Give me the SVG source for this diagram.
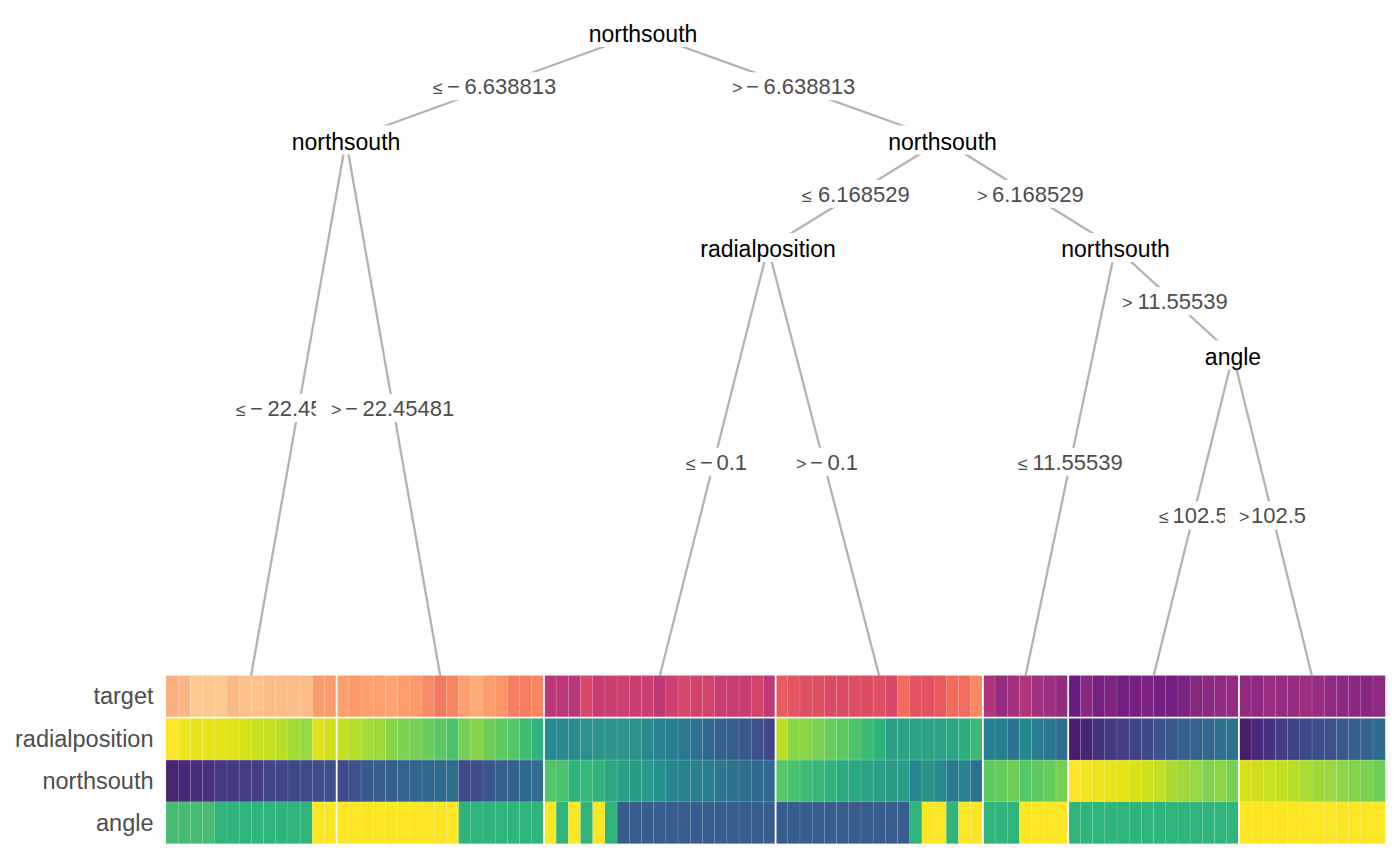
<svg xmlns="http://www.w3.org/2000/svg" width="1400" height="866" viewBox="0 0 1400 866">
<style>
.edge line{stroke:#B3B3B3;stroke-width:2.3;fill:none}
.bg{fill:#fff}
.node text{font-family:"Liberation Sans",Arial,sans-serif;font-size:23px;fill:#000;text-anchor:middle}
.elab text{font-family:"Liberation Sans",Arial,sans-serif;font-size:22px;fill:#4D4D4D}
.op{font-size:18px}
.ax{font-family:"Liberation Sans",Arial,sans-serif;font-size:23.5px;fill:#4D4D4D;text-anchor:end}
.hm rect{width:12.25px;stroke:#fff;stroke-opacity:.18;stroke-width:.6px}
.rt rect{y:675.5px;height:41.3px}
.rr rect{y:718.4px;height:41.7px}
.rn rect{y:760.1px;height:41.8px}
.ra rect{y:801.9px;height:41.8px}
.sep line{stroke:#fff;stroke-width:1.8}
</style>
<rect width="1400" height="866" fill="#fff"/>
<g id="connectors" class="edge">
<line x1="643" y1="32.5" x2="346" y2="140"/>
<line x1="643" y1="32.5" x2="942.5" y2="140"/>
<line x1="346" y1="140" x2="251" y2="676"/>
<line x1="346" y1="140" x2="440.3" y2="676"/>
<line x1="942.5" y1="140" x2="768" y2="247.5"/>
<line x1="942.5" y1="140" x2="1115.5" y2="247.5"/>
<line x1="768" y1="247.5" x2="659.8" y2="676"/>
<line x1="768" y1="247.5" x2="879.2" y2="676"/>
<line x1="1115.5" y1="247.5" x2="1025.5" y2="676"/>
<line x1="1115.5" y1="247.5" x2="1233" y2="355"/>
<line x1="1233" y1="355" x2="1153.6" y2="676"/>
<line x1="1233" y1="355" x2="1312" y2="676"/>
</g>
<g id="heatmap" class="hm">
<g class="rt">
<rect x="166.00" fill="#FDB07F"/><rect x="178.19" fill="#FDB583"/><rect x="190.38" fill="#FDCA8E"/><rect x="202.58" fill="#FDCA8E"/><rect x="214.77" fill="#FDCA8E"/><rect x="226.96" fill="#FDBA85"/><rect x="239.15" fill="#FDC28A"/><rect x="251.34" fill="#FDC38A"/><rect x="263.54" fill="#FDBD87"/><rect x="275.73" fill="#FDBD87"/><rect x="287.92" fill="#FDBD87"/><rect x="300.11" fill="#FDBD87"/><rect x="312.30" fill="#FA9C6B"/><rect x="324.50" fill="#FA9C6B"/>
<rect x="336.69" fill="#FE9F6D"/><rect x="348.88" fill="#FE9A6A"/><rect x="361.07" fill="#FEA06E"/><rect x="373.26" fill="#FEA06E"/><rect x="385.46" fill="#FEA473"/><rect x="397.65" fill="#FE9D6C"/><rect x="409.84" fill="#FE9A6A"/><rect x="422.03" fill="#F88C66"/><rect x="434.22" fill="#F47A5F"/><rect x="446.42" fill="#F8855F"/><rect x="458.61" fill="#FE9F6D"/><rect x="470.80" fill="#FEAC77"/><rect x="482.99" fill="#FE9C6B"/><rect x="495.18" fill="#FC9668"/><rect x="507.38" fill="#F67F62"/><rect x="519.57" fill="#F67D62"/><rect x="531.76" fill="#F88660"/>
<rect x="543.95" fill="#BB3679"/><rect x="556.14" fill="#BC3678"/><rect x="568.34" fill="#B8377A"/><rect x="580.53" fill="#D9486B"/><rect x="592.72" fill="#C83D71"/><rect x="604.91" fill="#CB3E70"/><rect x="617.10" fill="#CC3F71"/><rect x="629.30" fill="#C93E71"/><rect x="641.49" fill="#CB3F70"/><rect x="653.68" fill="#BE3876"/><rect x="665.87" fill="#CF4070"/><rect x="678.06" fill="#D8466B"/><rect x="690.26" fill="#D34369"/><rect x="702.45" fill="#D1436C"/><rect x="714.64" fill="#C83D72"/><rect x="726.83" fill="#C63C73"/><rect x="739.02" fill="#C93E71"/><rect x="751.22" fill="#D24369"/><rect x="763.41" fill="#BE3877"/>
<rect x="775.60" fill="#EC5A5E"/><rect x="787.79" fill="#E35461"/><rect x="799.98" fill="#DF4F63"/><rect x="812.18" fill="#DF4F63"/><rect x="824.37" fill="#DC4B65"/><rect x="836.56" fill="#DA4966"/><rect x="848.75" fill="#DF4E64"/><rect x="860.94" fill="#DC4C65"/><rect x="873.14" fill="#DF4F63"/><rect x="885.33" fill="#D84868"/><rect x="897.52" fill="#F16A5B"/><rect x="909.71" fill="#E75461"/><rect x="921.90" fill="#E1515F"/><rect x="934.10" fill="#EA5860"/><rect x="946.29" fill="#F26B5B"/><rect x="958.48" fill="#F26B5B"/><rect x="970.67" fill="#FC8962"/>
<rect x="982.86" fill="#AE347B"/><rect x="995.06" fill="#962C80"/><rect x="1007.25" fill="#A3307E"/><rect x="1019.44" fill="#B0357A"/><rect x="1031.63" fill="#A2307E"/><rect x="1043.82" fill="#9A2E80"/><rect x="1056.02" fill="#952C80"/>
<rect x="1068.21" fill="#681C81"/><rect x="1080.40" fill="#8A2881"/><rect x="1092.59" fill="#751F81"/><rect x="1104.78" fill="#7D2381"/><rect x="1116.98" fill="#721F81"/><rect x="1129.17" fill="#781F81"/><rect x="1141.36" fill="#7B2282"/><rect x="1153.55" fill="#751E81"/><rect x="1165.74" fill="#751E81"/><rect x="1177.94" fill="#7C2382"/><rect x="1190.13" fill="#87287F"/><rect x="1202.32" fill="#8C2981"/><rect x="1214.51" fill="#912B80"/><rect x="1226.70" fill="#932B80"/>
<rect x="1238.90" fill="#922B80"/><rect x="1251.09" fill="#8E2A81"/><rect x="1263.28" fill="#9C2E7F"/><rect x="1275.47" fill="#952C80"/><rect x="1287.66" fill="#962C80"/><rect x="1299.86" fill="#9C2E7F"/><rect x="1312.05" fill="#982D80"/><rect x="1324.24" fill="#912B81"/><rect x="1336.43" fill="#8C2981"/><rect x="1348.62" fill="#8A2881"/><rect x="1360.82" fill="#882781"/><rect x="1373.01" fill="#8C2981"/>
</g>
<g class="rr">
<rect x="166.00" fill="#FDE725"/><rect x="178.19" fill="#F1E51D"/><rect x="190.38" fill="#EAE51A"/><rect x="202.58" fill="#E7E419"/><rect x="214.77" fill="#E2E418"/><rect x="226.96" fill="#DDE318"/><rect x="239.15" fill="#D5E21A"/><rect x="251.34" fill="#CAE11F"/><rect x="263.54" fill="#C5E021"/><rect x="275.73" fill="#B8DE29"/><rect x="287.92" fill="#A5DB36"/><rect x="300.11" fill="#95D840"/><rect x="312.30" fill="#DDE318"/><rect x="324.50" fill="#D0E11C"/>
<rect x="336.69" fill="#C2DF23"/><rect x="348.88" fill="#B5DE2B"/><rect x="361.07" fill="#A5DB36"/><rect x="373.26" fill="#9ED93A"/><rect x="385.46" fill="#86D549"/><rect x="397.65" fill="#7CD250"/><rect x="409.84" fill="#75D054"/><rect x="422.03" fill="#6ACD5B"/><rect x="434.22" fill="#58C765"/><rect x="446.42" fill="#4CC26C"/><rect x="458.61" fill="#75D054"/><rect x="470.80" fill="#86D549"/><rect x="482.99" fill="#6ECE58"/><rect x="495.18" fill="#5EC962"/><rect x="507.38" fill="#52C569"/><rect x="519.57" fill="#40BD72"/><rect x="531.76" fill="#2EB37C"/>
<rect x="543.95" fill="#29898E"/><rect x="556.14" fill="#2A8A8D"/><rect x="568.34" fill="#2A8D8C"/><rect x="580.53" fill="#2B908B"/><rect x="592.72" fill="#2C938A"/><rect x="604.91" fill="#2D9689"/><rect x="617.10" fill="#2D9589"/><rect x="629.30" fill="#2C9288"/><rect x="641.49" fill="#29898E"/><rect x="653.68" fill="#27848E"/><rect x="665.87" fill="#277E8E"/><rect x="678.06" fill="#2A788E"/><rect x="690.26" fill="#2D718E"/><rect x="702.45" fill="#31688E"/><rect x="714.64" fill="#33628D"/><rect x="726.83" fill="#355E8D"/><rect x="739.02" fill="#38588C"/><rect x="751.22" fill="#3C508B"/><rect x="763.41" fill="#404688"/>
<rect x="775.60" fill="#BBDF27"/><rect x="787.79" fill="#8CD646"/><rect x="799.98" fill="#88D548"/><rect x="812.18" fill="#77D153"/><rect x="824.37" fill="#6ACD5B"/><rect x="836.56" fill="#5FC961"/><rect x="848.75" fill="#4DC16B"/><rect x="860.94" fill="#3CBB75"/><rect x="873.14" fill="#2EB37C"/><rect x="885.33" fill="#2C9F87"/><rect x="897.52" fill="#2BA385"/><rect x="909.71" fill="#2CA385"/><rect x="921.90" fill="#2DA285"/><rect x="934.10" fill="#2BA384"/><rect x="946.29" fill="#2AA884"/><rect x="958.48" fill="#2CB17D"/><rect x="970.67" fill="#3AB877"/>
<rect x="982.86" fill="#277F8E"/><rect x="995.06" fill="#237E8E"/><rect x="1007.25" fill="#2A768E"/><rect x="1019.44" fill="#23898E"/><rect x="1031.63" fill="#287C8E"/><rect x="1043.82" fill="#2A768E"/><rect x="1056.02" fill="#2E6E8E"/>
<rect x="1068.21" fill="#481C6E"/><rect x="1080.40" fill="#472677"/><rect x="1092.59" fill="#45327E"/><rect x="1104.78" fill="#443880"/><rect x="1116.98" fill="#423F85"/><rect x="1129.17" fill="#404588"/><rect x="1141.36" fill="#3F4889"/><rect x="1153.55" fill="#3B528B"/><rect x="1165.74" fill="#38598C"/><rect x="1177.94" fill="#355F8D"/><rect x="1190.13" fill="#33638D"/><rect x="1202.32" fill="#31688E"/><rect x="1214.51" fill="#2E6E8E"/><rect x="1226.70" fill="#2D718E"/>
<rect x="1238.90" fill="#471E6C"/><rect x="1251.09" fill="#46297A"/><rect x="1263.28" fill="#45337F"/><rect x="1275.47" fill="#433D84"/><rect x="1287.66" fill="#414387"/><rect x="1299.86" fill="#3F4889"/><rect x="1312.05" fill="#3D4E8A"/><rect x="1324.24" fill="#3C508B"/><rect x="1336.43" fill="#38598C"/><rect x="1348.62" fill="#355F8D"/><rect x="1360.82" fill="#33648D"/><rect x="1373.01" fill="#2F6B8E"/>
</g>
<g class="rn">
<rect x="166.00" fill="#482475"/><rect x="178.19" fill="#482878"/><rect x="190.38" fill="#472D7B"/><rect x="202.58" fill="#46307E"/><rect x="214.77" fill="#453781"/><rect x="226.96" fill="#443A83"/><rect x="239.15" fill="#433D84"/><rect x="251.34" fill="#423F85"/><rect x="263.54" fill="#414487"/><rect x="275.73" fill="#404688"/><rect x="287.92" fill="#3F4889"/><rect x="300.11" fill="#3E4A89"/><rect x="312.30" fill="#3E4C8A"/><rect x="324.50" fill="#3C4F8A"/>
<rect x="336.69" fill="#3E4A89"/><rect x="348.88" fill="#3B528B"/><rect x="361.07" fill="#38598C"/><rect x="373.26" fill="#355E8D"/><rect x="385.46" fill="#345F8D"/><rect x="397.65" fill="#33638D"/><rect x="409.84" fill="#32658E"/><rect x="422.03" fill="#31688E"/><rect x="434.22" fill="#31688E"/><rect x="446.42" fill="#2E6D8E"/><rect x="458.61" fill="#3F4889"/><rect x="470.80" fill="#3E4C8A"/><rect x="482.99" fill="#39568C"/><rect x="495.18" fill="#355F8D"/><rect x="507.38" fill="#33628D"/><rect x="519.57" fill="#31688E"/><rect x="531.76" fill="#2F6C8E"/>
<rect x="543.95" fill="#52C569"/><rect x="556.14" fill="#4CC26C"/><rect x="568.34" fill="#2EB37C"/><rect x="580.53" fill="#35B779"/><rect x="592.72" fill="#2FB47C"/><rect x="604.91" fill="#2CA681"/><rect x="617.10" fill="#29A085"/><rect x="629.30" fill="#289D86"/><rect x="641.49" fill="#27988A"/><rect x="653.68" fill="#26908C"/><rect x="665.87" fill="#25878E"/><rect x="678.06" fill="#25848E"/><rect x="690.26" fill="#27818E"/><rect x="702.45" fill="#277E8E"/><rect x="714.64" fill="#2A788E"/><rect x="726.83" fill="#2C738E"/><rect x="739.02" fill="#2E6F8E"/><rect x="751.22" fill="#306A8E"/><rect x="763.41" fill="#31688E"/>
<rect x="775.60" fill="#56C667"/><rect x="787.79" fill="#4AC16D"/><rect x="799.98" fill="#3EBC73"/><rect x="812.18" fill="#36B877"/><rect x="824.37" fill="#2EB37C"/><rect x="836.56" fill="#2CAB80"/><rect x="848.75" fill="#2AA682"/><rect x="860.94" fill="#2BA384"/><rect x="873.14" fill="#2A9F85"/><rect x="885.33" fill="#2A9C86"/><rect x="897.52" fill="#29A086"/><rect x="909.71" fill="#27878E"/><rect x="921.90" fill="#289585"/><rect x="934.10" fill="#26898C"/><rect x="946.29" fill="#2A788E"/><rect x="958.48" fill="#25858E"/><rect x="970.67" fill="#2C718E"/>
<rect x="982.86" fill="#5EC962"/><rect x="995.06" fill="#67CC5C"/><rect x="1007.25" fill="#6ECE58"/><rect x="1019.44" fill="#56C667"/><rect x="1031.63" fill="#5EC962"/><rect x="1043.82" fill="#67CC5C"/><rect x="1056.02" fill="#75D054"/>
<rect x="1068.21" fill="#FDE725"/><rect x="1080.40" fill="#F4E61E"/><rect x="1092.59" fill="#EDE51B"/><rect x="1104.78" fill="#E8E419"/><rect x="1116.98" fill="#E2E418"/><rect x="1129.17" fill="#D8E219"/><rect x="1141.36" fill="#CDE11D"/><rect x="1153.55" fill="#C2DF23"/><rect x="1165.74" fill="#A8DB34"/><rect x="1177.94" fill="#A0DA39"/><rect x="1190.13" fill="#95D840"/><rect x="1202.32" fill="#7FD34E"/><rect x="1214.51" fill="#8CD646"/><rect x="1226.70" fill="#75D054"/>
<rect x="1238.90" fill="#D8E219"/><rect x="1251.09" fill="#D0E11C"/><rect x="1263.28" fill="#CAE11F"/><rect x="1275.47" fill="#C2DF23"/><rect x="1287.66" fill="#B8DE29"/><rect x="1299.86" fill="#AADC32"/><rect x="1312.05" fill="#A0DA39"/><rect x="1324.24" fill="#98D83E"/><rect x="1336.43" fill="#8ED645"/><rect x="1348.62" fill="#84D44B"/><rect x="1360.82" fill="#7AD151"/><rect x="1373.01" fill="#6ECE58"/>
</g>
<g class="ra">
<rect x="166.00" fill="#48BC70"/><rect x="178.19" fill="#48BC70"/><rect x="190.38" fill="#48BC70"/><rect x="202.58" fill="#48BC70"/><rect x="214.77" fill="#2FB47C"/><rect x="226.96" fill="#2FB47C"/><rect x="239.15" fill="#2FB47C"/><rect x="251.34" fill="#2FB47C"/><rect x="263.54" fill="#2FB47C"/><rect x="275.73" fill="#2FB47C"/><rect x="287.92" fill="#2FB47C"/><rect x="300.11" fill="#2FB47C"/><rect x="312.30" fill="#FDE725"/><rect x="324.50" fill="#FDE725"/>
<rect x="336.69" fill="#FDE725"/><rect x="348.88" fill="#FDE725"/><rect x="361.07" fill="#FDE725"/><rect x="373.26" fill="#FDE725"/><rect x="385.46" fill="#FDE725"/><rect x="397.65" fill="#FDE725"/><rect x="409.84" fill="#FDE725"/><rect x="422.03" fill="#FDE725"/><rect x="434.22" fill="#FDE725"/><rect x="446.42" fill="#FDE725"/><rect x="458.61" fill="#2FB47C"/><rect x="470.80" fill="#2FB47C"/><rect x="482.99" fill="#2FB47C"/><rect x="495.18" fill="#2FB47C"/><rect x="507.38" fill="#2FB47C"/><rect x="519.57" fill="#2FB47C"/><rect x="531.76" fill="#2FB47C"/>
<rect x="543.95" fill="#FDE725"/><rect x="556.14" fill="#2FB47C"/><rect x="568.34" fill="#FDE725"/><rect x="580.53" fill="#2FB47C"/><rect x="592.72" fill="#FDE725"/><rect x="604.91" fill="#2FB47C"/><rect x="617.10" fill="#365D8D"/><rect x="629.30" fill="#365D8D"/><rect x="641.49" fill="#365D8D"/><rect x="653.68" fill="#365D8D"/><rect x="665.87" fill="#365D8D"/><rect x="678.06" fill="#365D8D"/><rect x="690.26" fill="#365D8D"/><rect x="702.45" fill="#365D8D"/><rect x="714.64" fill="#365D8D"/><rect x="726.83" fill="#365D8D"/><rect x="739.02" fill="#365D8D"/><rect x="751.22" fill="#365D8D"/><rect x="763.41" fill="#365D8D"/>
<rect x="775.60" fill="#365D8D"/><rect x="787.79" fill="#365D8D"/><rect x="799.98" fill="#365D8D"/><rect x="812.18" fill="#365D8D"/><rect x="824.37" fill="#365D8D"/><rect x="836.56" fill="#365D8D"/><rect x="848.75" fill="#365D8D"/><rect x="860.94" fill="#365D8D"/><rect x="873.14" fill="#365D8D"/><rect x="885.33" fill="#365D8D"/><rect x="897.52" fill="#365D8D"/><rect x="909.71" fill="#2FB47C"/><rect x="921.90" fill="#FDE725"/><rect x="934.10" fill="#FDE725"/><rect x="946.29" fill="#2FB47C"/><rect x="958.48" fill="#FDE725"/><rect x="970.67" fill="#FDE725"/>
<rect x="982.86" fill="#2FB47C"/><rect x="995.06" fill="#2FB47C"/><rect x="1007.25" fill="#2FB47C"/><rect x="1019.44" fill="#FDE725"/><rect x="1031.63" fill="#FDE725"/><rect x="1043.82" fill="#FDE725"/><rect x="1056.02" fill="#FDE725"/>
<rect x="1068.21" fill="#2FB47C"/><rect x="1080.40" fill="#2FB47C"/><rect x="1092.59" fill="#2FB47C"/><rect x="1104.78" fill="#2FB47C"/><rect x="1116.98" fill="#2FB47C"/><rect x="1129.17" fill="#2FB47C"/><rect x="1141.36" fill="#2FB47C"/><rect x="1153.55" fill="#2FB47C"/><rect x="1165.74" fill="#2FB47C"/><rect x="1177.94" fill="#2FB47C"/><rect x="1190.13" fill="#2FB47C"/><rect x="1202.32" fill="#2FB47C"/><rect x="1214.51" fill="#2FB47C"/><rect x="1226.70" fill="#2FB47C"/>
<rect x="1238.90" fill="#FDE725"/><rect x="1251.09" fill="#FDE725"/><rect x="1263.28" fill="#FDE725"/><rect x="1275.47" fill="#FDE725"/><rect x="1287.66" fill="#FDE725"/><rect x="1299.86" fill="#FDE725"/><rect x="1312.05" fill="#FDE725"/><rect x="1324.24" fill="#FDE725"/><rect x="1336.43" fill="#FDE725"/><rect x="1348.62" fill="#FDE725"/><rect x="1360.82" fill="#FDE725"/><rect x="1373.01" fill="#FDE725"/>
</g>
<g class="sep">
<line x1="336.69" y1="675" x2="336.69" y2="844"/>
<line x1="543.95" y1="675" x2="543.95" y2="844"/>
<line x1="775.60" y1="675" x2="775.60" y2="844"/>
<line x1="982.86" y1="675" x2="982.86" y2="844"/>
<line x1="1068.21" y1="675" x2="1068.21" y2="844"/>
<line x1="1238.90" y1="675" x2="1238.90" y2="844"/>
</g>
</g>
<g id="row-labels">
<text class="ax" x="153.5" y="704">target</text>
<text class="ax" x="153.5" y="747">radialposition</text>
<text class="ax" x="153.5" y="789">northsouth</text>
<text class="ax" x="153.5" y="831">angle</text>
</g>
<g id="node1" class="node"><rect class="bg" x="580" y="18" width="126" height="29"/><text x="643" y="42.3">northsouth</text></g>
<g id="node2" class="node"><rect class="bg" x="283" y="125.5" width="126" height="29"/><text x="346" y="149.8">northsouth</text></g>
<g id="node3" class="node"><rect class="bg" x="879.5" y="125.5" width="126" height="29"/><text x="942.5" y="149.8">northsouth</text></g>
<g id="node4" class="node"><rect class="bg" x="693" y="233" width="150" height="29"/><text x="768" y="257.3">radialposition</text></g>
<g id="node5" class="node"><rect class="bg" x="1052.5" y="233" width="126" height="29"/><text x="1115.5" y="257.3">northsouth</text></g>
<g id="node6" class="node"><rect class="bg" x="1199" y="340.5" width="68" height="29"/><text x="1233" y="364.8">angle</text></g>
<g id="edge-labels" class="elab">
<g><rect class="bg" x="421" y="72.3" width="146" height="28"/><text y="94"><tspan class="op" x="433">≤</tspan><tspan x="447">−</tspan><tspan x="464.5">6.638813</tspan></text></g>
<g><rect class="bg" x="720" y="72.3" width="146" height="28"/><text y="94"><tspan class="op" x="732">&gt;</tspan><tspan x="746">−</tspan><tspan x="763.5">6.638813</tspan></text></g>
<g><rect class="bg" x="224" y="394" width="146" height="28"/><text y="415.8"><tspan class="op" x="236">≤</tspan><tspan x="250">−</tspan><tspan x="267.5">22.45481</tspan></text></g>
<g><rect class="bg" x="316" y="394" width="150" height="28"/><text y="415.8"><tspan class="op" x="331">&gt;</tspan><tspan x="345">−</tspan><tspan x="362.5">22.45481</tspan></text></g>
<g><rect class="bg" x="790" y="179.8" width="132" height="28"/><text y="201.5"><tspan class="op" x="802">≤</tspan><tspan x="818">6.168529</tspan></text></g>
<g><rect class="bg" x="965" y="179.8" width="130" height="28"/><text y="201.5"><tspan class="op" x="977">&gt;</tspan><tspan x="992">6.168529</tspan></text></g>
<g><rect class="bg" x="674" y="447.8" width="81" height="28"/><text y="469.5"><tspan class="op" x="686">≤</tspan><tspan x="700">−</tspan><tspan x="716.5">0.1</tspan></text></g>
<g><rect class="bg" x="784" y="447.8" width="82" height="28"/><text y="469.5"><tspan class="op" x="796">&gt;</tspan><tspan x="810">−</tspan><tspan x="827.5">0.1</tspan></text></g>
<g><rect class="bg" x="1006" y="447.8" width="131" height="28"/><text y="469.5"><tspan class="op" x="1018">≤</tspan><tspan x="1032.6">11.55539</tspan></text></g>
<g><rect class="bg" x="1110" y="287.3" width="131" height="28"/><text y="309"><tspan class="op" x="1122">&gt;</tspan><tspan x="1137.6">11.55539</tspan></text></g>
<g><rect class="bg" x="1147" y="501.5" width="93" height="28"/><text y="523.3"><tspan class="op" x="1159">≤</tspan><tspan x="1172.6">102.5</tspan></text></g>
<g><rect class="bg" x="1225" y="501.5" width="92" height="28"/><text y="523.3"><tspan class="op" x="1239">&gt;</tspan><tspan x="1251">102.5</tspan></text></g>
</g>
</svg>
